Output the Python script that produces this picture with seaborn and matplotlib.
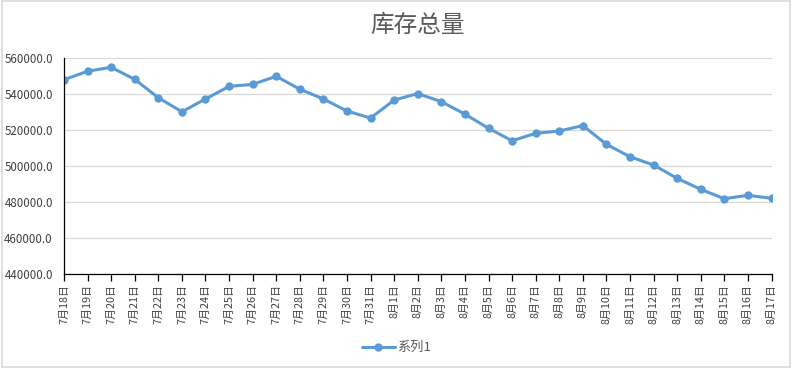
import pandas as pd
import matplotlib.pyplot as plt
import seaborn as sns
from matplotlib.patches import Rectangle

# data
dates = ['7月18日', '7月19日', '7月20日', '7月21日', '7月22日', '7月23日', '7月24日',
         '7月25日', '7月26日', '7月27日', '7月28日', '7月29日', '7月30日', '7月31日',
         '8月1日', '8月2日', '8月3日', '8月4日', '8月5日', '8月6日', '8月7日',
         '8月8日', '8月9日', '8月10日', '8月11日', '8月12日', '8月13日', '8月14日',
         '8月15日', '8月16日', '8月17日']
stock = [548100, 552800, 555000, 548300, 538100, 530300, 537400,
         544400, 545500, 550000, 542800, 537400, 530700, 526800,
         536800, 540400, 535900, 529000, 521100, 514200, 518300,
         519600, 522600, 512200, 505300, 500700, 493300, 487200,
         482000, 483900, 482200]
y_ticks = [440000, 460000, 480000, 500000, 520000, 540000, 560000]

sns.set_theme(style='white')
plt.rcParams['font.family'] = ['Noto Sans CJK SC', 'DejaVu Sans']

df = pd.DataFrame({'date': dates, 'stock': stock})

fig = plt.figure(figsize=(7.93, 3.68), dpi=100)
ax = fig.add_axes([0.0807, 0.2546, 0.8922, 0.587])

sns.lineplot(data=df, x='date', y='stock', sort=False, ax=ax,
             color='#5b9bd5', linewidth=2.2, marker='o', markersize=6,
             markeredgewidth=0, label='系列1')

ax.set_xlim(0, len(dates) - 1)
ax.set_ylim(440000, 560000)
ax.set_yticks(y_ticks)
ax.set_yticklabels([f'{v:.1f}' for v in y_ticks], fontsize=8.3, color='#404040')
ax.set_xticks(range(len(dates)))
ax.set_xticklabels(dates, rotation=90, fontsize=7.8, color='#404040')
ax.set_xlabel('')
ax.set_ylabel('')

ax.grid(axis='y', color='#d9d9d9', linewidth=0.9)
ax.set_axisbelow(True)
for s in ['top', 'right']:
    ax.spines[s].set_visible(False)
for s in ['left', 'bottom']:
    ax.spines[s].set_color('black')
    ax.spines[s].set_linewidth(0.9)
ax.tick_params(axis='x', bottom=True, length=5, width=0.9, color='black', pad=2)
ax.tick_params(axis='y', left=False, pad=2)

ax.set_title('库存总量', fontsize=17, color='#595959', pad=19, fontweight='medium')

ax.legend(loc='center', bbox_to_anchor=(0.47, -0.34), frameon=False,
          fontsize=9.5, labelcolor='#595959', handlelength=2.5, handletextpad=0.2)

fig.patches.append(Rectangle((0.002, 0.004), 0.994, 0.993, transform=fig.transFigure,
                             fill=False, edgecolor='#d9d9d9', linewidth=1.2))

fig.savefig('out.png', dpi=100)
